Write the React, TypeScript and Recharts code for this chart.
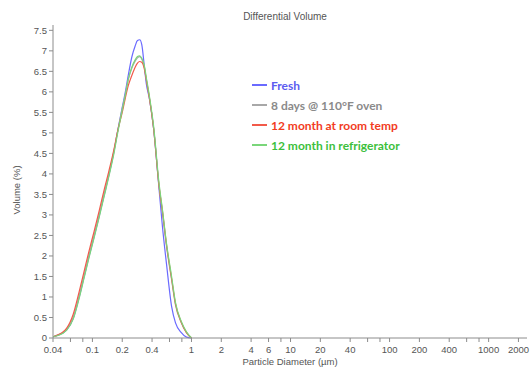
import React from "react";
import { LineChart, Line, XAxis, YAxis } from "recharts";

// particle diameter (µm), shared by all series
const diameters = [
  0.04, 0.045, 0.05, 0.055, 0.064, 0.073, 0.082, 0.092, 0.104, 0.117, 0.131,
  0.147, 0.165, 0.18, 0.2, 0.215, 0.23, 0.25, 0.27, 0.285, 0.3, 0.315, 0.335,
  0.35, 0.375, 0.415, 0.47, 0.51, 0.56, 0.63, 0.69, 0.79, 0.89, 1.0,
];

const fresh = [
  0.03, 0.07, 0.12, 0.2, 0.48, 0.97, 1.47, 1.97, 2.47, 2.97, 3.47, 3.98, 4.55,
  5.05, 5.62, 6.0, 6.4, 6.85, 7.12, 7.25, 7.27, 7.15, 6.6, 6.2, 5.85, 5.1,
  3.65, 2.7, 1.8, 0.77, 0.37, 0.13, 0.02, 0,
];
const oven8days = [
  0.03, 0.07, 0.12, 0.21, 0.5, 1.0, 1.5, 2.0, 2.5, 3.0, 3.5, 4.0, 4.55, 5.05,
  5.59, 5.93, 6.3, 6.58, 6.75, 6.83, 6.86, 6.8, 6.6, 6.3, 5.87, 5.1, 3.7, 3.05,
  2.23, 1.42, 0.8, 0.37, 0.13, 0,
];
const roomTemp12m = [
  0.03, 0.08, 0.14, 0.24, 0.58, 1.1, 1.6, 2.1, 2.6, 3.1, 3.6, 4.08, 4.6, 5.05,
  5.5, 5.85, 6.15, 6.4, 6.6, 6.7, 6.74, 6.72, 6.55, 6.3, 5.87, 5.1, 3.72, 3.08,
  2.27, 1.45, 0.83, 0.38, 0.13, 0,
];
const fridge12m = [
  0.03, 0.06, 0.11, 0.19, 0.46, 0.94, 1.44, 1.94, 2.44, 2.94, 3.44, 3.95, 4.5,
  5.0, 5.55, 5.92, 6.3, 6.6, 6.78, 6.86, 6.88, 6.82, 6.63, 6.35, 5.92, 5.16,
  3.78, 3.12, 2.3, 1.5, 0.86, 0.4, 0.15, 0,
];

const xTicks = [
  0.04, 0.06, 0.08, 0.1, 0.2, 0.4, 0.6, 0.8, 1, 2, 4, 6, 8, 10, 20, 40, 60, 80,
  100, 200, 400, 600, 800, 1000, 2000,
];
const xLabeled = [
  0.04, 0.1, 0.2, 0.4, 1, 2, 4, 6, 10, 20, 40, 100, 200, 400, 1000, 2000,
];
const yTicks = [0, 0.5, 1, 1.5, 2, 2.5, 3, 3.5, 4, 4.5, 5, 5.5, 6, 6.5, 7, 7.5];

const series = [
  { key: "fresh", name: "Fresh", line: "#6a6aff", text: "#5c5cf0" },
  { key: "oven", name: "8 days @ 110°F oven", line: "#a8a8a8", text: "#8a8a8a" },
  { key: "room", name: "12 month at room temp", line: "#f25a4a", text: "#f23c1e" },
  { key: "fridge", name: "12 month in refrigerator", line: "#7ad67a", text: "#3cbf3c" },
];

const data = diameters.map((d, i) => ({
  d,
  fresh: fresh[i],
  oven: oven8days[i],
  room: roomTemp12m[i],
  fridge: fridge12m[i],
}));

const axisColor = "#8c8c8c";
const textStyle = { fontFamily: "Liberation Sans, Arial, sans-serif", fontSize: 9.5, fill: "#555" };

const XTick = (props: any) => {
  const { x, y, payload } = props;
  if (!xLabeled.includes(payload.value)) return null;
  return (
    <text x={x} y={y + 9} textAnchor="middle" style={textStyle}>
      {payload.value}
    </text>
  );
};

// legend sits inside the plot, drawn as an overlay
const LegendBox = () => (
  <div
    style={{
      position: "absolute",
      left: 252,
      top: 75,
      zIndex: 3,
      fontFamily: "Lato, sans-serif",
      fontWeight: 700,
      fontSize: 12,
    }}
  >
    {series.map((s) => (
      <div key={s.key} style={{ display: "flex", alignItems: "center", height: 20 }}>
        <span
          style={{
            display: "inline-block",
            width: 15,
            height: 2,
            background: s.line,
            marginRight: 4,
          }}
        />
        <span style={{ color: s.text }}>{s.name}</span>
      </div>
    ))}
  </div>
);

export default function App() {
  return (
    <div
      style={{
        position: "absolute",
        left: 0,
        top: 0,
        width: 531,
        height: 369,
        background: "#fff",
      }}
    >
      <svg
        width={531}
        height={369}
        style={{ position: "absolute", left: 0, top: 0, pointerEvents: "none", zIndex: 2 }}
      >
        <text x={285} y={20} textAnchor="middle" style={{ ...textStyle, fontSize: 10 }}>
          Differential Volume
        </text>
        <text x={290} y={365} textAnchor="middle" style={textStyle}>
          Particle Diameter (µm)
        </text>
        <text
          x={20}
          y={190}
          textAnchor="middle"
          transform="rotate(-90 20 190)"
          style={textStyle}
        >
          Volume (%)
        </text>
      </svg>
      <LegendBox />
      <LineChart
        width={531}
        height={369}
        data={data}
        margin={{ top: 25, right: 4, bottom: 0, left: 0 }}
      >
        <XAxis
          dataKey="d"
          type="number"
          scale="log"
          domain={[0.04, 2440]}
          ticks={xTicks}
          interval={0}
          allowDataOverflow
          height={31}
          stroke={axisColor}
          tickSize={4}
          tick={<XTick />}
        />
        <XAxis
          xAxisId="top"
          orientation="top"
          type="number"
          domain={[0, 1]}
          height={0}
          tick={false}
          tickLine={false}
          stroke="#999"
          strokeWidth={1.5}
        />
        <YAxis
          type="number"
          domain={[0, 7.63]}
          ticks={yTicks}
          interval={0}
          width={53}
          stroke={axisColor}
          tickSize={4}
          tick={{ ...textStyle }}
        />
        <YAxis
          yAxisId="right"
          orientation="right"
          type="number"
          domain={[0, 1]}
          width={0}
          tick={false}
          tickLine={false}
          stroke="#999"
        />
        {series.map((s) => (
          <Line
            key={s.key}
            dataKey={s.key}
            name={s.name}
            type="monotone"
            stroke={s.line}
            strokeWidth={1.2}
            dot={false}
            isAnimationActive={false}
          />
        ))}
      </LineChart>
    </div>
  );
}
